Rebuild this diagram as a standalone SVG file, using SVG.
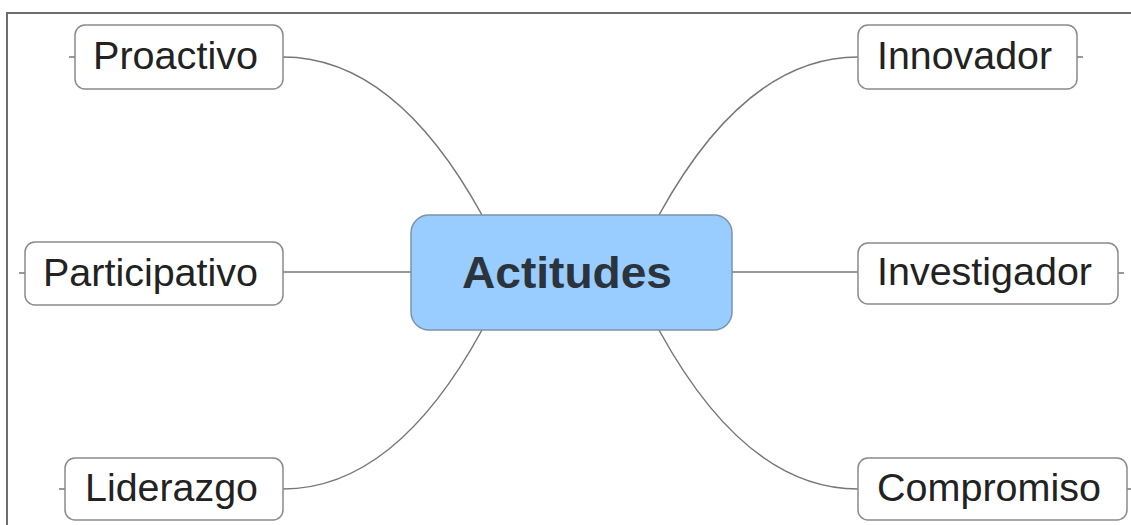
<svg xmlns="http://www.w3.org/2000/svg" width="1131" height="525" viewBox="0 0 1131 525">
<style>
.box{fill:#ffffff;stroke:#8a8a8a;stroke-width:1.5}
.main{fill:#99ccff;stroke:#7d93a8;stroke-width:1.5}
.lbl{font-family:"Liberation Sans",Arial,sans-serif;font-size:38px;fill:#222}
.mlbl{font-family:"Liberation Sans",Arial,sans-serif;font-size:45px;font-weight:bold;fill:#2b333d}
.con{fill:none;stroke:#777;stroke-width:1.5}
.frame{fill:none;stroke:#6e6e6e;stroke-width:2}
</style>
<rect width="1131" height="525" fill="#ffffff"/>
<path class="frame" d="M7,525 V13 H1131"/>
<g id="connectors">
<path class="con" d="M283,57 Q395,57 482,215"/>
<path class="con" d="M858,57 Q746,57 659,215"/>
<path class="con" d="M283,489 Q395,489 482,330"/>
<path class="con" d="M858,489 Q746,489 659,330"/>
<path class="con" d="M283,272 H411"/>
<path class="con" d="M732,272 H858"/>
<path class="con" d="M69,57 H75"/>
<path class="con" d="M1077,57 H1083"/>
<path class="con" d="M19,273 H25"/>
<path class="con" d="M1118,273 H1124"/>
<path class="con" d="M59,489 H65"/>
<path class="con" d="M1127,489 H1131"/>
</g>
<g id="actitudes">
<rect class="main" x="411" y="215" width="321" height="115" rx="18"/>
<text class="mlbl" x="462" y="288" textLength="210" lengthAdjust="spacingAndGlyphs">Actitudes</text>
</g>
<g id="proactivo">
<rect class="box" x="75" y="25" width="208" height="64" rx="10"/>
<text class="lbl" x="93" y="69" textLength="165" lengthAdjust="spacingAndGlyphs">Proactivo</text>
</g>
<g id="participativo">
<rect class="box" x="25" y="242" width="258" height="63" rx="10"/>
<text class="lbl" x="43" y="286" textLength="215" lengthAdjust="spacingAndGlyphs">Participativo</text>
</g>
<g id="liderazgo">
<rect class="box" x="65" y="458" width="218" height="62" rx="10"/>
<text class="lbl" x="85" y="501" textLength="173" lengthAdjust="spacingAndGlyphs">Liderazgo</text>
</g>
<g id="innovador">
<rect class="box" x="858" y="25" width="219" height="64" rx="10"/>
<text class="lbl" x="877" y="69" textLength="175" lengthAdjust="spacingAndGlyphs">Innovador</text>
</g>
<g id="investigador">
<rect class="box" x="858" y="243" width="260" height="61" rx="10"/>
<text class="lbl" x="877" y="285" textLength="215" lengthAdjust="spacingAndGlyphs">Investigador</text>
</g>
<g id="compromiso">
<rect class="box" x="858" y="458" width="269" height="62" rx="10"/>
<text class="lbl" x="877" y="501" textLength="224" lengthAdjust="spacingAndGlyphs">Compromiso</text>
</g>
</svg>
